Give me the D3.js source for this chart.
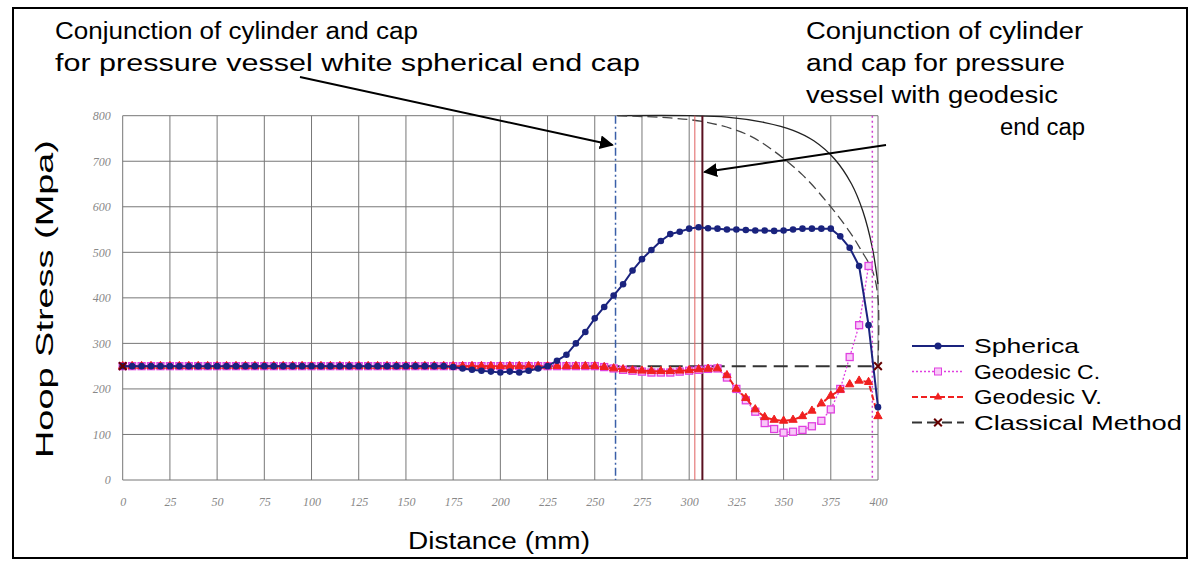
<!DOCTYPE html>
<html><head><meta charset="utf-8">
<script src="https://cdn.jsdelivr.net/npm/d3@7"></script>
<style>body{margin:0;background:#fff}</style>
</head><body><div id="chart"></div>
<script>
// ---- data ----
const xTicks = d3.range(0, 401, 25);
const yTicks = d3.range(0, 801, 100);
const stepX = d3.range(0, 401, 5);
const spherica = [250,250,250,250,250,250,250,250,250,250,250,250,250,250,250,250,250,250,250,250,250,250,250,250,250,250,250,250,250,250,250,250,250,250,250,
  248,245,242,240,238,236,238,236,240,245,250,262,275,300,325,355,380,405,430,460,485,505,525,540,545,552,555,553,552,550,550,549,548,548,547,548,550,552,552,552,552,535,510,470,340,160];
const geoC = [250,250,250,250,250,250,250,250,250,250,250,250,250,250,250,250,250,250,250,250,250,250,250,250,250,250,250,250,250,250,250,250,250,250,250,250,250,250,250,250,250,250,250,250,250,250,250,250,250,250,250,
  248,245,242,240,238,236,236,236,238,240,242,244,245,225,200,175,150,125,112,104,106,110,118,130,155,200,270,340,470];
const geoV = [250,250,250,250,250,250,250,250,250,250,250,250,250,250,250,250,250,250,250,250,250,250,250,250,250,250,250,250,250,250,250,250,250,250,250,250,250,250,250,250,250,250,250,250,250,250,250,250,250,250,250,
  248,245,243,241,240,239,239,239,240,241,243,244,245,230,200,180,155,138,132,130,132,140,152,168,185,198,210,218,215,140];
const classical = [[0,250],[400,250]];
const solidArc = [[262,800],[300,800],[320,797],[340,785],[355,768],[366,745],[377,705],[386,650],[392,590],[397,510],[400,430]];
const dashArc = [[262,800],[290,795],[310,785],[330,760],[344,725],[360,670],[373,610],[385,545],[391,505],[397,460],[400,400],[400,255]];
const vLines = [{x:261,c:"#3a5fa8",d:"8,3,2,3",w:1.5},{x:303,c:"#e06060",d:null,w:1},{x:307,c:"#5a1020",d:null,w:2},{x:397,c:"#d040d0",d:"2,3",w:1.5}];
const legendNames = ["Spherica","Geodesic C.","Geodesic V.","Classical Method"];
const legendWidths = [105, 126, 128, 208];

// ---- setup ----
const W = 1201, H = 568;
const svg = d3.select("#chart").append("svg").attr("width", W).attr("height", H)
  .style("font-family", "Liberation Sans, Arial, sans-serif");
svg.append("rect").attr("x", 13).attr("y", 8).attr("width", 1174).attr("height", 550)
  .attr("fill", "none").attr("stroke", "#000").attr("stroke-width", 2);

const x = d3.scaleLinear().domain([0, 400]).range([122.7, 878]);
const y = d3.scaleLinear().domain([0, 800]).range([480, 115.7]);

// grid
svg.append("g").selectAll("line").data(xTicks).join("line")
  .attr("x1", d => x(d)).attr("x2", d => x(d)).attr("y1", y(800)).attr("y2", y(0))
  .attr("stroke", "#777").attr("stroke-width", 1);
svg.append("g").selectAll("line").data(yTicks).join("line")
  .attr("x1", x(0)).attr("x2", x(400)).attr("y1", d => y(d)).attr("y2", d => y(d))
  .attr("stroke", "#777").attr("stroke-width", 1);

// axes
const xAxis = svg.append("g").attr("transform", `translate(0,${y(0) + 14})`)
  .call(d3.axisBottom(x).tickValues(xTicks).tickSize(0).tickFormat(d3.format("d")));
const yAxis = svg.append("g").attr("transform", `translate(${x(0) - 9},0)`)
  .call(d3.axisLeft(y).tickValues(yTicks).tickSize(0).tickFormat(d3.format("d")));
[xAxis, yAxis].forEach(a => {
  a.select(".domain").remove();
  a.selectAll("text").attr("fill", "#888").attr("font-size", 12)
    .attr("font-family", "Liberation Serif, serif").attr("font-style", "italic");
});

const fit = "spacingAndGlyphs";
svg.append("text").attr("x", 408).attr("y", 549).attr("font-size", 23)
  .attr("textLength", 182).attr("lengthAdjust", fit).text("Distance (mm)");
svg.append("text").attr("transform", "translate(53,458) rotate(-90)")
  .attr("font-size", 23).attr("textLength", 318).attr("lengthAdjust", fit).text("Hoop Stress (Mpa)");

// reference curves
const line = d3.line().x(d => x(d[0])).y(d => y(d[1]));
const curvy = d3.line().curve(d3.curveCatmullRom).x(d => x(d[0])).y(d => y(d[1]));
svg.append("path").attr("d", curvy(solidArc))
  .attr("fill", "none").attr("stroke", "#222").attr("stroke-width", 1.3);
svg.append("path").attr("d", curvy(dashArc)).attr("fill", "none").attr("stroke", "#444")
  .attr("stroke-width", 1.3).attr("stroke-dasharray", "10,5");
svg.append("g").selectAll("line").data(vLines).join("line")
  .attr("x1", d => x(d.x)).attr("x2", d => x(d.x)).attr("y1", y(800)).attr("y2", y(0))
  .attr("stroke", d => d.c).attr("stroke-width", d => d.w).attr("stroke-dasharray", d => d.d);

// classical
svg.append("path").attr("d", line(classical)).attr("fill", "none").attr("stroke", "#333")
  .attr("stroke-width", 2).attr("stroke-dasharray", "14,7");

const toPts = arr => arr.map((v, i) => [stepX[i], v]);

// geodesic C
const gc = toPts(geoC);
svg.append("path").attr("d", line(gc)).attr("fill", "none").attr("stroke", "#e040e0")
  .attr("stroke-width", 1.3).attr("stroke-dasharray", "2,2");
svg.append("g").selectAll("rect").data(gc).join("rect")
  .attr("x", d => x(d[0]) - 3.5).attr("y", d => y(d[1]) - 3.5).attr("width", 7).attr("height", 7)
  .attr("fill", "#f8c8f8").attr("stroke", "#e040e0").attr("stroke-width", 1.3);

// geodesic V
const gv = toPts(geoV);
svg.append("path").attr("d", line(gv)).attr("fill", "none").attr("stroke", "#f02020")
  .attr("stroke-width", 2).attr("stroke-dasharray", "6,3");
svg.append("g").selectAll("path").data(gv).join("path")
  .attr("d", d3.symbol(d3.symbolTriangle, 30))
  .attr("transform", d => `translate(${x(d[0])},${y(d[1])})`)
  .attr("fill", "#f02020").attr("stroke", "#f02020");

// spherica
const sp = toPts(spherica);
svg.append("path").attr("d", line(sp)).attr("fill", "none").attr("stroke", "#1a237e").attr("stroke-width", 2);
svg.append("g").selectAll("circle").data(sp).join("circle")
  .attr("cx", d => x(d[0])).attr("cy", d => y(d[1])).attr("r", 3.3).attr("fill", "#1a237e");

// classical markers
svg.append("g").selectAll("path").data(classical).join("path")
  .attr("d", d3.symbol(d3.symbolX, 40))
  .attr("transform", d => `translate(${x(d[0])},${y(d[1])})`)
  .attr("stroke", "#600").attr("stroke-width", 2).attr("fill", "none");

// legend
const lg = svg.append("g").attr("transform", "translate(912,346)");
legendNames.forEach((n, i) => {
  const g = lg.append("g").attr("transform", `translate(0,${i * 25.5})`);
  const styles = [["#1a237e", null, 2], ["#e040e0", "2,2", 1.3], ["#f02020", "6,3", 2], ["#333", "10,5", 2]][i];
  g.append("line").attr("x1", 0).attr("x2", 52).attr("stroke", styles[0])
    .attr("stroke-dasharray", styles[1]).attr("stroke-width", styles[2]);
  if (i === 0) g.append("circle").attr("cx", 26).attr("r", 3.5).attr("fill", "#1a237e");
  if (i === 1) g.append("rect").attr("x", 22.5).attr("y", -3.5).attr("width", 7).attr("height", 7)
    .attr("fill", "#f8c8f8").attr("stroke", "#e040e0");
  if (i === 2) g.append("path").attr("d", d3.symbol(d3.symbolTriangle, 30)).attr("transform", "translate(26,0)").attr("fill", "#f02020");
  if (i === 3) g.append("path").attr("d", d3.symbol(d3.symbolX, 40)).attr("transform", "translate(26,0)")
    .attr("stroke", "#600").attr("stroke-width", 2);
  g.append("text").attr("x", 62).attr("y", 7).attr("font-size", 21)
    .attr("textLength", legendWidths[i]).attr("lengthAdjust", fit).text(n);
});

// annotations
const ann = svg.append("g").attr("font-size", 23).attr("fill", "#000");
const annLines = [
  ["Conjunction of cylinder and cap", 55, 39, 363],
  ["for pressure vessel white spherical end cap", 55, 71, 585],
  ["Conjunction of cylinder", 806, 39, 277],
  ["and cap for pressure", 806, 71, 259],
  ["vessel with geodesic", 806, 103, 252],
  ["end cap", 1000, 135, 85]
];
annLines.forEach(t => ann.append("text").attr("x", t[1]).attr("y", t[2])
  .attr("textLength", t[3]).attr("lengthAdjust", fit).text(t[0]));

svg.append("defs").append("marker").attr("id", "ah").attr("viewBox", "0 0 10 10")
  .attr("refX", 9).attr("refY", 5).attr("markerWidth", 7).attr("markerHeight", 7).attr("orient", "auto")
  .append("path").attr("d", "M0,0L10,5L0,10z").attr("fill", "#000");
svg.append("line").attr("x1", 300).attr("y1", 77).attr("x2", x(261) - 3).attr("y2", 145)
  .attr("stroke", "#000").attr("stroke-width", 2).attr("marker-end", "url(#ah)");
svg.append("line").attr("x1", 886).attr("y1", 145).attr("x2", x(307) + 2).attr("y2", 172)
  .attr("stroke", "#000").attr("stroke-width", 2).attr("marker-end", "url(#ah)");
</script></body></html>
